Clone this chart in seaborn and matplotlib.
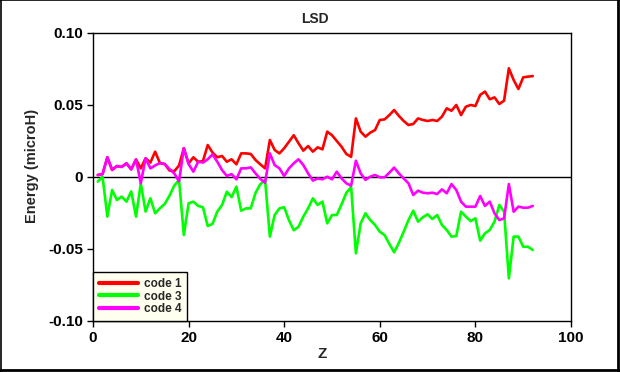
import matplotlib
matplotlib.use("Agg")
import matplotlib.pyplot as plt
from matplotlib.lines import Line2D
import numpy as np
import pandas as pd
import seaborn as sns

# atomic number Z = 1..92
z = list(range(1, 93))

code1 = [
    0.0014, 0.0020, 0.0137, 0.0049, 0.0076, 0.0070, 0.0095, 0.0053, 0.0122, 0.0060,
    0.0130, 0.0100, 0.0176, 0.0097, 0.0090, 0.0045, 0.0040, 0.0080, 0.0200, 0.0094,
    0.0137, 0.0106, 0.0110, 0.0222, 0.0170, 0.0137, 0.0146, 0.0106, 0.0123, 0.0088,
    0.0164, 0.0164, 0.0160, 0.0118, 0.0088, 0.0060, 0.0257, 0.0188, 0.0164, 0.0200,
    0.0245, 0.0290, 0.0234, 0.0183, 0.0215, 0.0176, 0.0206, 0.0192, 0.0315, 0.0290,
    0.0250, 0.0210, 0.0160, 0.0140, 0.0407, 0.0315, 0.0280, 0.0308, 0.0326, 0.0396,
    0.0400, 0.0430, 0.0465, 0.0424, 0.0389, 0.0361, 0.0368, 0.0407, 0.0396, 0.0389,
    0.0396, 0.0389, 0.0419, 0.0477, 0.0460, 0.0500, 0.0430, 0.0488, 0.0500, 0.0493,
    0.0570, 0.0593, 0.0540, 0.0553, 0.0507, 0.0530, 0.0755, 0.0674, 0.0611, 0.0692,
    0.0697, 0.0701,
]

code3 = [
    -0.0032, 0.0002, -0.0275, -0.0090, -0.0160, -0.0136, -0.0171, -0.0100, -0.0275, -0.0044,
    -0.0240, -0.0148, -0.0252, -0.0217, -0.0187, -0.0130, -0.0060, -0.0020, -0.0403, -0.0183,
    -0.0171, -0.0201, -0.0210, -0.0340, -0.0326, -0.0240, -0.0194, -0.0102, -0.0140, -0.0067,
    -0.0234, -0.0218, -0.0218, -0.0110, -0.0050, -0.0020, -0.0414, -0.0264, -0.0218, -0.0210,
    -0.0300, -0.0370, -0.0345, -0.0275, -0.0218, -0.0148, -0.0194, -0.0171, -0.0322, -0.0264,
    -0.0264, -0.0190, -0.0110, -0.0070, -0.0530, -0.0322, -0.0252, -0.0299, -0.0333, -0.0380,
    -0.0403, -0.0465, -0.0523, -0.0456, -0.0380, -0.0299, -0.0234, -0.0310, -0.0280, -0.0259,
    -0.0292, -0.0264, -0.0333, -0.0368, -0.0414, -0.0410, -0.0241, -0.0275, -0.0306, -0.0287,
    -0.0442, -0.0391, -0.0368, -0.0310, -0.0194, -0.0241, -0.0704, -0.0414, -0.0414, -0.0484,
    -0.0484, -0.0507,
]

code4 = [
    0.0014, 0.0020, 0.0137, 0.0049, 0.0076, 0.0070, 0.0095, 0.0053, 0.0122, -0.0044,
    0.0130, 0.0060, 0.0080, 0.0097, 0.0090, 0.0055, 0.0025, -0.0030, 0.0200, 0.0090,
    0.0037, 0.0106, 0.0100, 0.0123, 0.0157, 0.0106, 0.0048, 0.0007, 0.0020, -0.0016,
    0.0060, 0.0060, 0.0067, 0.0025, -0.0013, -0.0040, 0.0164, 0.0083, 0.0060, 0.0007,
    0.0060, 0.0095, 0.0123, 0.0083, 0.0025, -0.0025, -0.0010, -0.0016, 0.0002, -0.0016,
    0.0037, -0.0010, -0.0044, -0.0060, 0.0113, 0.0025, -0.0020, 0.0002, 0.0014, -0.0002,
    -0.0002, 0.0030, 0.0065, 0.0025, -0.0010, -0.0044, -0.0125, -0.0095, -0.0109, -0.0113,
    -0.0109, -0.0118, -0.0086, -0.0113, -0.0049, -0.0090, -0.0171, -0.0206, -0.0206, -0.0206,
    -0.0132, -0.0201, -0.0171, -0.0252, -0.0299, -0.0287, -0.0049, -0.0241, -0.0206, -0.0213,
    -0.0213, -0.0201,
]

series_names = ["code 1", "code 3", "code 4"]
series_colors = ["#ff0000", "#00ff00", "#ff00ff"]

x_ticks = [0, 20, 40, 60, 80, 100]
y_ticks = [0.10, 0.05, 0.0, -0.05, -0.10]
y_tick_labels = ["0.10", "0.05", "0", "-0.05", "-0.10"]

df = pd.DataFrame({
    "Z": z * 3,
    "Energy": code1 + code3 + code4,
    "series": [s for s in series_names for _ in z],
})

sns.set_style("white")
plt.rcParams["font.family"] = ["Liberation Sans", "DejaVu Sans"]

fig = plt.figure(figsize=(6.2, 3.72), dpi=100)
ax = fig.add_axes([93 / 620, 1 - 321 / 372, 478 / 620, 288 / 372])

ax.axhline(0, color="black", linewidth=1, zorder=1)

sns.lineplot(
    data=df,
    x="Z",
    y="Energy",
    hue="series",
    hue_order=series_names,
    palette=series_colors,
    linewidth=1.9,
    legend=False,
    ax=ax,
    zorder=2,
)

ax.set_xlim(0, 100)
ax.set_ylim(-0.10, 0.10)
ax.set_xticks(x_ticks)
ax.set_xticklabels([str(t) for t in x_ticks])
ax.set_yticks(y_ticks)
ax.set_yticklabels(y_tick_labels)
ax.tick_params(
    axis="both", direction="out", length=4, width=1,
    labelsize=11, pad=3, colors="black",
    bottom=True, left=True,
)
for lbl in ax.get_xticklabels() + ax.get_yticklabels():
    lbl.set_fontweight("bold")

for sp in ax.spines.values():
    sp.set_color("black")
    sp.set_linewidth(1)

ax.set_xlabel("Z", fontsize=11, fontweight="bold")
ax.xaxis.set_label_coords(0.479, -0.090)
ax.set_ylabel("Energy (microH)", fontsize=10.5, fontweight="bold")
ax.yaxis.set_label_coords(-0.112, 0.538)
fig.text(0.508, 0.948, "LSD", ha="center", va="center",
         fontsize=10, fontweight="bold")

handles = [Line2D([0], [0], color=c, linewidth=3) for c in series_colors]
leg = ax.legend(
    handles, series_names,
    loc="lower left", bbox_to_anchor=(0, 0),
    borderaxespad=0, frameon=True, fancybox=False,
    prop={"weight": "bold", "size": 8.5},
    handlelength=3.3, handletextpad=0.5, labelspacing=0.05,
    borderpad=0.5,
)
leg.get_frame().set_facecolor("#fffff0")
leg.get_frame().set_edgecolor("black")
leg.get_frame().set_linewidth(1)
leg.get_frame().set_alpha(1)

# outer frame of the picture
fig.add_artist(Line2D([0.001, 0.001], [0, 1], transform=fig.transFigure, color="black", linewidth=1.2))
fig.add_artist(Line2D([0, 1], [0.999, 0.999], transform=fig.transFigure, color="black", linewidth=1.2))
fig.add_artist(Line2D([0.996, 0.996], [0, 1], transform=fig.transFigure, color="black", linewidth=2))
fig.add_artist(Line2D([0, 1], [0.006, 0.006], transform=fig.transFigure, color="black", linewidth=2))

fig.savefig("out.png", dpi=100, facecolor="white")
